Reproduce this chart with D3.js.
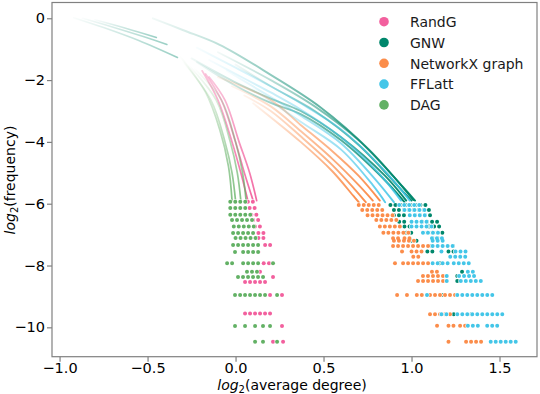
<!DOCTYPE html>
<html>
<head>
<meta charset="utf-8">
<script src="https://cdn.jsdelivr.net/npm/d3@7"></script>
<style>
  body { margin: 0; background: #fff; }
  text { font-family: "DejaVu Sans", sans-serif; }
</style>
</head>
<body>
<div id="chart"></div>
<script>
// series, in drawing order
const seriesNames = ["RandG", "GNW", "NetworkX graph", "FFLatt", "DAG"];
const seriesColors = ["#f2609e", "#00876c", "#fb8d4b", "#44c6e8", "#63b165"];

// tick values
const xTicks = [-1.0, -0.5, 0.0, 0.5, 1.0, 1.5];
const yTicks = [0, -2, -4, -6, -8, -10];

// dense upper parts of each series, read as curves [log2 degree, log2 freq]
const randgCurves = [
  [[-0.19, -1.7], [-0.1, -2.65], [-0.02, -4.0], [0.03, -5.0], [0.07, -5.9]],
  [[-0.17, -1.8], [-0.08, -2.65], [0.0, -4.0], [0.05, -5.0], [0.1, -5.9]],
  [[-0.15, -1.9], [-0.06, -2.65], [0.02, -4.0], [0.08, -5.0], [0.12, -5.9]]
];
const gnwFaintCurves = [
  [[-0.92, 0.02], [-0.75, -0.3], [-0.55, -0.72], [-0.33, -1.27]],
  [[-0.87, 0.0], [-0.7, -0.28], [-0.52, -0.6], [-0.39, -0.85]],
  [[-0.8, -0.05], [-0.62, -0.33], [-0.45, -0.62]]
];
const gnwCurves = [
  [[-0.47, 0.0], [-0.3, -0.38], [-0.09, -0.86], [0.2, -1.83], [0.48, -2.87], [0.76, -4.26], [1.01, -5.88]],
  [[-0.25, -1.3], [-0.01, -2.05], [0.2, -2.6], [0.37, -3.0], [0.6, -3.85], [0.85, -5.1], [0.97, -5.9]],
  [[-0.22, -1.42], [-0.01, -2.15], [0.2, -2.74], [0.37, -3.1], [0.6, -3.95], [0.85, -5.25], [0.96, -5.95]],
  [[-0.1, -1.1], [0.2, -2.0], [0.45, -2.85], [0.7, -3.95], [0.95, -5.45], [1.02, -5.9]],
  [[0.0, -1.5], [0.2, -2.2], [0.45, -3.0], [0.7, -4.1], [0.95, -5.6], [1.0, -5.9]]
];
const nxCurves = [
  [[-0.1, -1.9], [0.2, -2.65], [0.37, -3.45], [0.55, -4.3], [0.7, -5.1], [0.82, -5.9]],
  [[-0.02, -2.2], [0.2, -2.85], [0.37, -3.65], [0.55, -4.55], [0.7, -5.4], [0.78, -5.9]],
  [[0.05, -2.5], [0.2, -3.0], [0.37, -3.82], [0.55, -4.75], [0.68, -5.55], [0.74, -5.95]],
  [[0.1, -2.75], [0.37, -4.0], [0.55, -4.95], [0.67, -5.75], [0.7, -5.95]]
];
const fflattCurves = [
  [[-0.22, -0.95], [0.0, -1.6], [0.2, -2.2], [0.37, -2.75], [0.6, -3.6], [0.85, -4.95], [0.99, -5.9]],
  [[-0.15, -1.35], [0.05, -1.95], [0.2, -2.4], [0.37, -2.95], [0.6, -3.85], [0.82, -5.05], [0.94, -5.9]],
  [[-0.05, -1.7], [0.2, -2.55], [0.37, -3.15], [0.6, -4.05], [0.8, -5.25], [0.9, -5.95]],
  [[0.1, -2.3], [0.37, -3.35], [0.6, -4.25], [0.78, -5.4], [0.85, -5.95]]
];
const dagCurves = [
  [[-0.32, -1.2], [-0.17, -2.4], [-0.09, -3.6], [-0.04, -4.8], [-0.02, -5.9]],
  [[-0.3, -1.4], [-0.14, -2.65], [-0.06, -4.0], [-0.02, -5.0], [0.0, -5.9]],
  [[-0.27, -1.5], [-0.11, -2.65], [-0.03, -4.0], [0.01, -5.0], [0.03, -5.9]],
  [[-0.24, -1.6], [-0.08, -2.65], [0.0, -4.0], [0.04, -5.0], [0.06, -5.9]]
];

// sparse lower parts: runs of dots on one frequency level [y, xFrom, xTo]
const randgDots = [
  [-5.94, 0.07, 0.12], [-6.14, 0.08, 0.125], [-6.36, 0.09, 0.14], [-6.53, 0.1, 0.15],
  [-6.74, 0.11, 0.156], [-6.95, 0.13, 0.18], [-7.11, 0.13, 0.17], [-7.34, 0.168, 0.2],
  [-7.56, 0.13, 0.15], [-7.93, 0.16, 0.16], [-7.93, 0.19, 0.19], [-8.2, 0.139, 0.156],
  [-8.37, 0.213, 0.213], [-8.53, 0.054, 0.179], [-8.95, 0.196, 0.196], [-8.95, 0.264, 0.264],
  [-9.55, 0.054, 0.213], [-9.96, 0.264, 0.264], [-10.47, 0.213, 0.213], [-10.47, 0.27, 0.27]
];
const gnwDots = [
  [-6.04, 0.88, 1.09], [-6.2, 0.9, 1.1], [-6.37, 0.9, 0.97], [-6.37, 1.02, 1.12],
  [-6.58, 0.93, 0.97], [-6.58, 1.06, 1.15], [-6.74, 0.96, 1.0], [-6.74, 1.1, 1.16],
  [-6.94, 0.97, 1.01], [-6.94, 1.09, 1.18], [-7.12, 1.12, 1.15], [-7.2, 1.0, 1.04],
  [-7.37, 1.1, 1.12], [-7.37, 1.236, 1.236], [-7.55, 1.09, 1.12], [-7.55, 1.21, 1.24],
  [-7.93, 1.16, 1.16], [-8.2, 1.287, 1.287], [-8.34, 1.26, 1.26], [-8.5, 1.15, 1.15],
  [-8.5, 1.26, 1.26], [-8.95, 1.09, 1.09], [-8.95, 1.18, 1.18], [-9.58, 1.24, 1.24],
  [-9.58, 1.34, 1.34], [-9.95, 1.31, 1.31]
];
const nxDots = [
  [-6.04, 0.7, 0.84], [-6.2, 0.72, 0.86], [-6.37, 0.75, 0.895], [-6.53, 0.8, 0.92],
  [-6.74, 0.82, 0.95], [-6.94, 0.84, 0.99], [-7.12, 0.895, 0.935], [-7.12, 0.96, 1.01],
  [-7.2, 0.9, 1.03], [-7.37, 0.895, 1.105], [-7.55, 0.946, 0.963], [-7.55, 1.0, 1.065],
  [-7.72, 1.01, 1.065], [-7.93, 0.906, 0.923], [-7.93, 0.952, 1.12], [-8.2, 1.116, 1.151],
  [-8.34, 1.065, 1.2], [-8.5, 1.037, 1.2], [-8.95, 0.918, 0.918], [-8.95, 0.974, 0.974],
  [-8.95, 1.03, 1.065], [-8.95, 1.105, 1.259], [-9.58, 1.105, 1.247], [-9.95, 1.145, 1.145],
  [-9.95, 1.21, 1.247], [-9.95, 1.276, 1.32], [-10.47, 1.21, 1.236], [-10.47, 1.31, 1.41]
];
const fflattDots = [
  [-6.04, 0.93, 1.065], [-6.2, 0.96, 1.08], [-6.37, 0.99, 1.1], [-6.58, 1.0, 1.1],
  [-6.74, 1.0, 1.12], [-6.94, 1.065, 1.16], [-7.12, 1.116, 1.2], [-7.2, 1.12, 1.2],
  [-7.37, 1.12, 1.25], [-7.55, 1.17, 1.17], [-7.55, 1.25, 1.31], [-7.72, 1.22, 1.31],
  [-7.93, 1.12, 1.22], [-7.93, 1.24, 1.34], [-8.2, 1.32, 1.36], [-8.34, 1.2, 1.2],
  [-8.34, 1.27, 1.38], [-8.5, 1.2, 1.2], [-8.5, 1.28, 1.41], [-8.95, 1.088, 1.105],
  [-8.95, 1.26, 1.46], [-9.58, 1.17, 1.22], [-9.58, 1.26, 1.53], [-9.95, 1.32, 1.39],
  [-9.95, 1.43, 1.51], [-10.47, 1.45, 1.6]
];
const dagDots = [
  [-5.94, -0.03, 0.07], [-6.14, -0.03, 0.08], [-6.36, -0.03, 0.09], [-6.53, -0.02, 0.1],
  [-6.74, -0.01, 0.11], [-6.95, -0.014, 0.128], [-7.11, 0.0, 0.13], [-7.34, -0.014, 0.156],
  [-7.56, -0.003, 0.014], [-7.56, 0.043, 0.139], [-7.93, -0.048, -0.014], [-7.93, 0.043, 0.139],
  [-7.93, 0.213, 0.213], [-8.2, 0.065, 0.139], [-8.37, 0.014, 0.043], [-8.37, 0.071, 0.168],
  [-8.95, -0.003, -0.003], [-8.95, 0.026, 0.026], [-8.95, 0.054, 0.168], [-8.95, 0.236, 0.236],
  [-9.96, -0.003, -0.003], [-9.96, 0.054, 0.054], [-9.96, 0.111, 0.111], [-9.96, 0.156, 0.156],
  [-9.96, 0.196, 0.196], [-10.47, 0.111, 0.111], [-10.47, 0.156, 0.156], [-10.47, 0.236, 0.236]
];

const width = 540, height = 394;
const margin = { top: 2.5, right: 3, bottom: 37.3, left: 52 };

const svg = d3.select("#chart").append("svg")
  .attr("width", width)
  .attr("height", height);

const x = d3.scaleLinear().domain([-1.043, 1.713]).range([margin.left, width - margin.right]);
const y = d3.scaleLinear().domain([0.51, -10.95]).range([margin.top, height - margin.bottom]);

const defs = svg.append("defs");
const plot = svg.append("g");

const line = d3.line()
  .x(d => x(d[0]))
  .y(d => y(d[1]))
  .curve(d3.curveCatmullRom);

let gradId = 0;
function drawCurves(curves, color, a0, a1, w) {
  curves.forEach(c => {
    let last = c[c.length - 1];
    let id = "g" + (gradId++);
    let grad = defs.append("linearGradient")
      .attr("id", id)
      .attr("gradientUnits", "userSpaceOnUse")
      .attr("x1", x(c[0][0])).attr("y1", y(c[0][1]))
      .attr("x2", x(last[0])).attr("y2", y(last[1]));
    grad.append("stop").attr("offset", 0).attr("stop-color", color).attr("stop-opacity", a0);
    grad.append("stop").attr("offset", 1).attr("stop-color", color).attr("stop-opacity", a1);
    plot.append("path")
      .attr("d", line(c))
      .attr("fill", "none")
      .attr("stroke", "url(#" + id + ")")
      .attr("stroke-width", w)
      .attr("stroke-linecap", "round");
  });
}

function drawDots(runs, color) {
  let g = plot.append("g");
  // white edge first, then the coloured dot
  [["#fff", 5], [color, 4]].forEach(([c, w]) => {
    g.selectAll(null)
      .data(runs)
      .enter()
      .append("path")
      .attr("d", d => `M${x(d[1])},${y(d[0])}L${x(d[2])},${y(d[0])}`)
      .attr("fill", "none")
      .attr("stroke", c)
      .attr("stroke-width", w)
      .attr("stroke-linecap", "round")
      .attr("stroke-dasharray", "0 5");
  });
}

// RandG
drawCurves(randgCurves, seriesColors[0], 0.35, 0.95, 1.7);
drawDots(randgDots, seriesColors[0]);
// GNW
drawCurves(gnwFaintCurves, seriesColors[1], 0.02, 0.4, 1.6);
drawCurves(gnwCurves, seriesColors[1], 0.05, 1, 1.9);
drawDots(gnwDots, seriesColors[1]);
// NetworkX graph
drawCurves(nxCurves, seriesColors[2], 0.1, 1, 1.9);
drawDots(nxDots, seriesColors[2]);
// FFLatt
drawCurves(fflattCurves, seriesColors[3], 0.04, 0.9, 1.9);
drawDots(fflattDots, seriesColors[3]);
// DAG
drawCurves(dagCurves, seriesColors[4], 0.0, 0.8, 1.7);
drawDots(dagDots, seriesColors[4]);

// frame
svg.append("rect")
  .attr("x", margin.left)
  .attr("y", margin.top)
  .attr("width", width - margin.right - margin.left)
  .attr("height", height - margin.bottom - margin.top)
  .attr("fill", "none")
  .attr("stroke", "#808080")
  .attr("stroke-width", 1.2);

const fmtX = d => d3.format(".1f")(d).replace("-", "\u2212");
const fmtY = d => String(d).replace("-", "\u2212");

let xAxis = d3.axisBottom(x).tickValues(xTicks).tickFormat(fmtX).tickSize(5).tickPadding(1);
let yAxis = d3.axisLeft(y).tickValues(yTicks).tickFormat(fmtY).tickSize(5).tickPadding(2);

let gx = svg.append("g")
  .attr("transform", "translate(0," + (height - margin.bottom) + ")")
  .call(xAxis);
let gy = svg.append("g")
  .attr("transform", "translate(" + margin.left + ",0)")
  .call(yAxis);
[gx, gy].forEach(g => {
  g.select(".domain").remove();
  g.selectAll(".tick line").attr("stroke", "#808080").attr("stroke-width", 1.2);
  g.selectAll(".tick text")
    .attr("fill", "#000")
    .style("font-size", "14.5px")
    .style("font-family", "DejaVu Sans");
});

// axis labels
let xl = svg.append("text")
  .attr("x", 292)
  .attr("y", 390)
  .attr("text-anchor", "middle")
  .style("font-size", "14px");
xl.append("tspan").style("font-style", "italic").text("log");
xl.append("tspan").attr("dy", 3).style("font-size", "10px").text("2");
xl.append("tspan").attr("dy", -3).text("(average degree)");

let yl = svg.append("text")
  .attr("transform", "translate(15,180) rotate(-90)")
  .attr("text-anchor", "middle")
  .style("font-size", "14px");
yl.append("tspan").style("font-style", "italic").text("log");
yl.append("tspan").attr("dy", 3).style("font-size", "10px").text("2");
yl.append("tspan").attr("dy", -3).text("(frequency)");

// legend
let legend = svg.append("g").attr("transform", "translate(384,21.7)");
seriesNames.forEach((name, i) => {
  let row = legend.append("g").attr("transform", "translate(0," + (i * 20.8) + ")");
  row.append("circle")
    .attr("r", 4.8)
    .attr("fill", seriesColors[i]);
  row.append("text")
    .attr("x", 26)
    .attr("y", 5.2)
    .style("font-size", "14px")
    .attr("fill", "#1a1a1a")
    .text(name);
});
</script>
</body>
</html>
